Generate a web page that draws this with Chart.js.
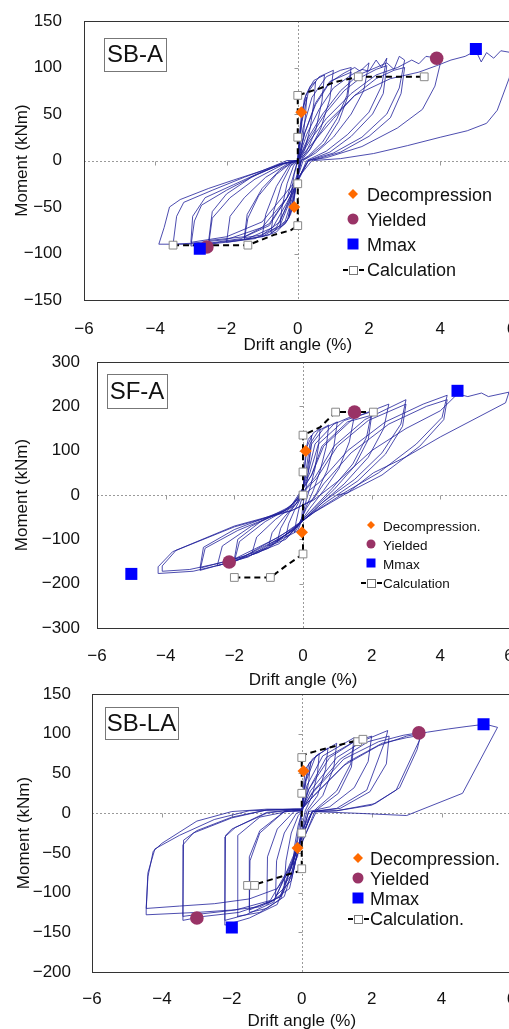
<!DOCTYPE html>
<html>
<head>
<meta charset="utf-8">
<script src="https://cdn.jsdelivr.net/npm/chart.js@4.4.0/dist/chart.umd.min.js"></script>
<style>
    html, body { margin: 0; padding: 0; background: #fff; overflow: hidden; width: 509px; height: 1029px; }
    canvas { position: absolute; left: 0; }
</style>
</head>
<body>
<canvas id="graficoSBA" width="520" height="360" style="top:0px"></canvas>
<canvas id="graficoSFA" width="520" height="355" style="top:340px"></canvas>
<canvas id="graficoSBLA" width="520" height="356" style="top:680px"></canvas>
<script>
// ---- datos (drift %, momento kNm) ----
var driftTicks = [-6, -4, -2, 0, 2, 4, 6];

// SB-A
var sbaLoop = [
    [0,0],[0.05,30],[0.12,55],[0.25,68],[0.22,50],[0.15,25],[0.08,5],
    [-0.05,-25],[-0.12,-50],[-0.25,-60],[-0.2,-40],[-0.1,-15],[0,0],
    [0.08,35],[0.18,65],[0.35,80],[0.5,85],[0.45,62],[0.35,35],[0.2,12],[0.05,0],
    [-0.08,-35],[-0.2,-58],[-0.35,-68],[-0.5,-72],[-0.45,-52],[-0.3,-25],[-0.12,-6],[0,0],
    [0.1,40],[0.22,70],[0.45,86],[0.75,92],[0.68,64],[0.5,32],[0.25,10],[0.08,0],
    [-0.1,-38],[-0.25,-62],[-0.5,-72],[-0.75,-78],[-0.68,-55],[-0.45,-25],[-0.2,-6],[0,0],
    [0.12,42],[0.3,74],[0.6,90],[1.0,97],[0.9,66],[0.65,35],[0.35,12],[0.1,0],
    [-0.12,-40],[-0.3,-65],[-0.6,-77],[-1.0,-82],[-0.9,-58],[-0.6,-28],[-0.25,-6],[0,0],
    [0.15,35],[0.4,68],[0.8,90],[1.2,97],[1.5,100],[1.38,70],[1.1,45],[0.7,20],[0.3,5],[0.1,0],
    [-0.15,-40],[-0.35,-65],[-0.8,-80],[-1.5,-85],[-1.4,-62],[-1.1,-38],[-0.6,-15],[-0.2,-3],[0,0],
    [0.2,30],[0.5,62],[0.9,85],[1.5,95],[1.4,68],[1.15,42],[0.75,18],[0.3,4],[0.1,0],
    [-0.2,-38],[-0.5,-66],[-1.0,-80],[-1.5,-83],[-1.42,-58],[-1.0,-30],[-0.5,-10],[-0.15,-2],[0,0],
    [0.2,30],[0.5,60],[0.9,84],[1.3,94],[1.6,100],[1.75,96],[2.0,105],[1.85,75],[1.5,50],[1.0,25],[0.5,8],[0.15,0],
    [-0.2,-42],[-0.5,-70],[-1.0,-82],[-1.5,-85],[-2.0,-88],[-1.9,-60],[-1.5,-40],[-0.9,-18],[-0.3,-4],[0,0],
    [0.25,28],[0.6,55],[1.0,78],[1.5,92],[1.8,98],[2.0,96],[2.2,108],[2.35,100],[2.5,110],[2.35,80],[2.0,52],[1.4,28],[0.8,10],[0.25,0],
    [-0.25,-45],[-0.6,-72],[-1.2,-84],[-1.8,-87],[-2.5,-90],[-2.4,-62],[-1.9,-40],[-1.2,-20],[-0.4,-4],[0,0],
    [0.3,22],[0.8,52],[1.3,75],[1.8,90],[2.2,98],[2.5,102],[2.4,72],[2.1,50],[1.5,26],[0.9,9],[0.3,0],
    [-0.3,-40],[-0.8,-68],[-1.5,-82],[-2.5,-86],[-2.4,-55],[-2.0,-36],[-1.3,-18],[-0.5,-4],[0,0],
    [0.3,25],[0.7,50],[1.2,75],[1.7,92],[2.2,100],[2.5,105],[2.7,98],[2.85,112],[3.0,108],[2.85,78],[2.5,50],[1.8,25],[1.0,8],[0.3,0],
    [-0.3,-45],[-0.7,-72],[-1.4,-84],[-2.2,-88],[-3.0,-92],[-2.9,-65],[-2.7,-48],[-2.0,-32],[-1.2,-16],[-0.4,-3],[0,0],
    [0.4,18],[1.0,45],[1.6,70],[2.2,88],[2.7,97],[3.0,100],[2.9,72],[2.6,46],[2.0,26],[1.2,9],[0.4,0],
    [-0.4,-38],[-1.0,-66],[-2.0,-82],[-3.0,-88],[-2.95,-60],[-2.6,-40],[-1.8,-26],[-1.0,-12],[-0.3,-2],[0,0],
    [-0.3,-40],[-1.0,-72],[-2.0,-85],[-3.0,-89],[-3.5,-90],[-3.4,-60],[-3.2,-45],[-2.4,-32],[-1.5,-18],[-0.5,-4],[0,0],
    [0.35,22],[0.8,45],[1.5,72],[2.2,92],[2.8,100],[3.2,108],[3.4,104],[3.6,112],[3.9,110],[4.0,104],[3.85,80],[3.5,55],[2.8,35],[1.8,15],[0.8,3],[0.3,0],
    [-0.3,-40],[-0.8,-70],[-1.6,-84],[-2.5,-89],[-3.2,-90],[-3.9,-90],[-3.75,-72],[-3.6,-50],[-3.3,-42],[-2.5,-30],[-1.8,-21],[-1.0,-11],[-0.3,0],[0,0],
    [0.3,10],[0.8,40],[1.6,70],[2.6,88],[3.4,95],[3.9,102],[4.3,108],[4.7,112],[5.0,118],[5.15,106],[5.3,116],[5.5,110],[5.7,118],[6.0,116],
    [5.94,89],[5.6,54],[5.3,40],[4.76,32],[4.0,25],[3.08,16],[2.13,7.5],[1.2,2],[0.45,0]
];
var sbaCalcLine = [[-3.5,-91],[-1.4,-91],[-0.67,-80],[-0.2,-75],[0,-70],[0,70],[0.08,71],[0.65,78],[1.0,84],[1.7,90],[3.55,90]];
var sbaCalcMarks = [[-3.5,-91],[-1.4,-91],[0,-70],[0,-25],[0,25],[0,70],[1.7,90],[3.55,90]];
var sbaDecomp = [[0.1,52],[-0.1,-50]];
var sbaYielded = [[3.9,110],[-2.55,-93]];
var sbaMmax = [[5.0,120],[-2.75,-95]];

// SF-A
var sfaLoop = [
    [0,0],[0.03,50],[0.08,100],[0.15,125],[0.25,135],[0.22,100],[0.15,50],[0.08,10],[0,-20],[-0.05,-60],[-0.15,-80],[-0.25,-85],[-0.2,-60],[-0.1,-25],[0,0],
    [0.05,60],[0.12,110],[0.3,140],[0.5,150],[0.45,110],[0.35,60],[0.22,20],[0.1,-10],[-0.05,-60],[-0.25,-85],[-0.5,-95],[-0.42,-65],[-0.25,-35],[-0.05,-5],
    [0.1,60],[0.2,115],[0.45,145],[0.75,158],[0.68,110],[0.5,55],[0.3,10],[0.1,-25],[-0.1,-65],[-0.4,-90],[-0.75,-105],[-0.65,-75],[-0.4,-40],[-0.1,-10],
    [0.12,55],[0.25,115],[0.6,150],[1.0,165],[0.9,110],[0.7,55],[0.4,5],[0.1,-30],[-0.15,-70],[-0.5,-100],[-1.0,-115],[-0.9,-85],[-0.55,-50],[-0.15,-15],
    [0.15,50],[0.35,115],[0.9,160],[1.5,180],[1.35,120],[1.05,60],[0.6,10],[0.2,-30],[-0.2,-75],[-0.7,-110],[-1.5,-135],[-1.35,-95],[-0.8,-55],[-0.2,-20],
    [0.2,50],[0.45,115],[1.2,168],[2.0,188],[1.85,130],[1.45,70],[0.85,15],[0.3,-30],[-0.25,-75],[-1.0,-120],[-2.0,-150],[-1.85,-105],[-1.1,-60],[-0.3,-25],
    [0.25,45],[0.55,110],[1.3,165],[2.0,180],[1.9,125],[1.5,65],[0.9,12],[0.35,-28],[-0.25,-75],[-1.0,-118],[-2.0,-145],[-1.9,-100],[-1.2,-58],[-0.35,-25],
    [0.25,45],[0.6,110],[1.5,175],[2.5,205],[2.35,150],[1.9,85],[1.2,25],[0.45,-25],[-0.3,-80],[-1.3,-130],[-2.5,-160],[-2.35,-115],[-1.5,-70],[-0.4,-30],
    [0.35,40],[0.9,110],[1.8,170],[3.0,215],[2.85,160],[2.3,95],[1.5,35],[0.6,-15],[-0.3,-80],[-1.6,-140],[-3.0,-170],[-2.85,-120],[-1.9,-80],[-0.5,-35],
    [0.4,38],[1.0,110],[1.9,168],[3.0,205],[2.9,155],[2.4,92],[1.6,32],[0.7,-15],[-0.35,-78],[-1.7,-138],[-3.0,-165],[-2.9,-118],[-2.0,-78],[-0.55,-35],
    [0.5,30],[1.3,100],[2.4,165],[3.5,205],[4.2,225],[4.05,175],[3.3,115],[2.2,50],[1.2,5],[0.3,-40],[-0.6,-95],[-2.0,-150],[-3.2,-172],[-4.2,-177],
    [-4.22,-162],[-3.8,-128],[-2.0,-70],[-0.3,-34],[0.3,-10],
    [0.6,25],[1.4,95],[2.5,160],[3.6,200],[4.2,215],[4.1,170],[3.4,110],[2.3,45],[1.25,3],[0.35,-38],[-0.7,-95],[-2.1,-148],[-3.3,-168],[-4.1,-172],
    [-4.1,-160],[-3.7,-125],[-2.0,-72],[-0.35,-36],[0.3,-12],
    [1.0,30],[2.0,100],[3.0,150],[4.0,190],[4.5,228],[4.8,222],[5.2,230],[5.4,222],[6.0,232],[5.9,208],[4.0,131],[3.0,86],[2.05,50],[1.3,5],[1.0,0]
];
var sfaCalcLine = [[-2.0,-186],[-0.95,-186],[-0.5,-160],[0,-133],[0,135],[0.5,153],[0.95,187],[2.05,187]];
var sfaCalcMarks = [[-2.0,-186],[-0.95,-186],[0,-133],[0,0],[0,52],[0,135],[0.95,187],[2.05,187]];
var sfaDecomp = [[0.08,99],[-0.03,-84]];
var sfaYielded = [[1.5,187],[-2.15,-151]];
var sfaMmax = [[4.5,235],[-5.0,-178]];

// SB-LA
var sblaLoop = [
    [0,0],[0.04,30],[0.1,55],[0.25,65],[0.2,40],[0.1,15],[0,0],[-0.05,-30],[-0.12,-55],[-0.25,-65],[-0.2,-40],[-0.1,-15],[0,0],
    [0.08,35],[0.2,62],[0.5,75],[0.45,50],[0.3,22],[0.1,3],[-0.08,-40],[-0.25,-75],[-0.5,-90],[-0.45,-60],[-0.3,-25],[-0.1,-3],[0,2],
    [0.1,40],[0.3,68],[0.75,82],[0.68,55],[0.45,22],[0.15,3],[-0.1,-45],[-0.3,-85],[-0.75,-105],[-0.72,-60],[-0.5,-25],[-0.15,0],[0,2],
    [0.12,40],[0.4,72],[1.0,88],[0.92,58],[0.6,22],[0.2,3],[-0.12,-50],[-0.35,-95],[-1.0,-115],[-0.98,-55],[-0.7,-20],[-0.2,3],[0,3],
    [0.15,35],[0.6,72],[1.5,95],[1.4,62],[1.0,28],[0.4,5],[-0.15,-55],[-0.5,-105],[-1.0,-120],[-1.5,-125],[-1.48,-60],[-1.2,-25],[-0.5,2],[0,3],
    [0.2,30],[0.7,70],[1.5,90],[1.42,58],[1.05,25],[0.45,5],[-0.2,-55],[-0.6,-105],[-1.5,-122],[-1.5,-55],[-1.2,-22],[-0.5,2],[0,3],
    [0.2,30],[0.8,70],[1.5,90],[2.0,97],[1.9,65],[1.5,32],[0.8,8],[0.2,2],[-0.2,-55],[-0.6,-108],[-1.2,-125],[-1.85,-130],[-1.83,-28],[-1.2,-5],[-0.3,3],[0,4],
    [0.25,28],[1.0,70],[1.8,92],[2.46,104],[2.4,93],[1.86,29],[1.0,6],[0.3,2],[-0.25,-60],[-0.7,-115],[-1.5,-132],[-2.2,-141],[-2.18,-28],[-2.0,-20],[-1.0,0],[-0.3,4],[0,4],
    [0.3,26],[1.1,68],[1.9,90],[2.5,97],[2.42,62],[1.95,27],[1.1,6],[0.3,2],[-0.3,-60],[-0.8,-112],[-1.6,-128],[-2.2,-135],[-2.2,-30],[-1.9,-18],[-1.0,1],[-0.3,4],[0,4],
    [0.3,25],[1.2,68],[2.2,90],[2.9,98],[3.45,102],[3.37,92],[2.7,29],[2.0,10],[1.0,3],[0.3,2],[-0.3,-65],[-0.8,-110],[-1.8,-125],[-2.8,-130],[-3.4,-135],
    [-3.38,-34],[-3.0,-22],[-2.0,-5],[-1.0,4],[-0.2,5],[0,5],
    [0.35,22],[1.3,64],[2.3,88],[3.0,95],[3.4,98],[3.3,80],[2.8,32],[2.1,12],[1.0,3],[0.3,2],[-0.35,-68],[-0.9,-110],[-1.9,-122],[-2.9,-127],[-3.4,-130],
    [-3.4,-40],[-3.1,-25],[-2.0,-6],[-1.0,4],[-0.2,5],[0,5],
    [0.3,20],[1.2,60],[2.2,85],[3.0,97],[3.6,102],[4.2,106],[4.7,109],[5.25,112],[5.6,108],[4.6,25],[3.0,-3],[1.5,0],[0.3,2],
    [-0.1,-30],[-0.3,-80],[-0.6,-105],[-1.2,-118],[-2.0,-122],[-3.0,-125],[-4.45,-128],[-4.45,-122],[-4.4,-80],[-4.25,-48],[-4.0,-38],[-3.0,-10],[-2.0,2],[-1.0,5],[0,5],
    [-0.1,-25],[-0.3,-70],[-0.7,-95],[-1.5,-108],[-2.5,-114],[-3.5,-117],[-4.45,-120],[-4.4,-75],[-4.2,-45],[-3.5,-28],[-2.5,-8],[-1.5,3],[0,5]
];
var sblaCalcLine = [[-1.55,-91],[-1.35,-90],[-0.6,-80],[0,-72],[0,72],[0.15,75],[1.0,85],[1.7,93]];
var sblaCalcMarks = [[-1.55,-91],[-1.35,-91],[0,-70],[0,-25],[0,25],[0,70],[1.6,90],[1.75,93]];
var sblaDecomp = [[0.05,53],[-0.12,-44]];
var sblaYielded = [[3.35,101],[-3.0,-132]];
var sblaMmax = [[5.2,112],[-2.0,-144]];

var FUENTE = "'Liberation Sans', Arial, sans-serif";
var COLOR_LAZO = '#20209a';

function aPuntos(lista) {
    return lista.map(function (p) { return { x: p[0], y: p[1] }; });
}

function formatoNum(v) {
    return v < 0 ? '\u2212' + Math.abs(v) : '' + v;
}

function dibujarMarca(ctx, tipo, x, y, r, color) {
    ctx.fillStyle = color;
    ctx.beginPath();
    if (tipo === 'rombo') {
        ctx.moveTo(x, y - r); ctx.lineTo(x + r, y); ctx.lineTo(x, y + r); ctx.lineTo(x - r, y); ctx.closePath();
    } else if (tipo === 'circulo') {
        ctx.arc(x, y, r, 0, Math.PI * 2);
    } else {
        ctx.rect(x - r, y - r, 2 * r, 2 * r);
    }
    ctx.fill();
}

// ejes en cero, marco, etiqueta del ensayo y leyenda
var decoracionPanel = {
    id: 'decoracionPanel',
    beforeDatasetsDraw: function (chart, args, opts) {
        var ctx = chart.ctx, a = chart.chartArea, sx = chart.scales.x, sy = chart.scales.y;
        var x0 = Math.round(sx.getPixelForValue(0)) + 0.5;
        var y0 = Math.round(sy.getPixelForValue(0)) + 0.5;
        ctx.save();
        ctx.strokeStyle = '#9a9a9a';
        ctx.lineWidth = 1;
        ctx.setLineDash([2, 2]);
        ctx.beginPath();
        ctx.moveTo(a.left, y0); ctx.lineTo(a.right, y0);
        ctx.moveTo(x0, a.top); ctx.lineTo(x0, a.bottom);
        ctx.stroke();
        ctx.setLineDash([]);
        ctx.beginPath();
        sx.ticks.forEach(function (t) {
            if (t.value !== 0 && t.value !== sx.min && t.value !== sx.max) {
                var px = Math.round(sx.getPixelForValue(t.value)) + 0.5;
                ctx.moveTo(px, y0); ctx.lineTo(px, y0 + 4);
            }
        });
        sy.ticks.forEach(function (t) {
            if (t.value !== 0 && t.value !== sy.min && t.value !== sy.max) {
                var py = Math.round(sy.getPixelForValue(t.value)) + 0.5;
                ctx.moveTo(x0 - 4, py); ctx.lineTo(x0, py);
            }
        });
        ctx.stroke();
        ctx.restore();
    },
    afterDraw: function (chart, args, opts) {
        var ctx = chart.ctx, a = chart.chartArea;
        ctx.save();
        // marco
        ctx.strokeStyle = '#333';
        ctx.lineWidth = 1;
        ctx.strokeRect(Math.round(a.left) + 0.5, Math.round(a.top) + 0.5, Math.round(a.right - a.left), Math.round(a.bottom - a.top));

        // caja con nombre del ensayo
        var c = opts.caja;
        ctx.fillStyle = '#fff';
        ctx.fillRect(c.x, c.y, c.w, c.h);
        ctx.strokeStyle = '#777';
        ctx.strokeRect(c.x + 0.5, c.y + 0.5, c.w, c.h);
        ctx.fillStyle = '#111';
        ctx.font = c.size + 'px ' + FUENTE;
        ctx.textAlign = 'center';
        ctx.textBaseline = 'middle';
        ctx.fillText(c.texto, c.x + c.w / 2, c.y + c.h / 2 + 1);

        // leyenda
        var lg = opts.leyenda;
        ctx.font = lg.size + 'px ' + FUENTE;
        ctx.textAlign = 'left';
        ctx.fillStyle = '#111';
        var tipos = ['rombo', 'circulo', 'cuadro'];
        var colores = ['#ff6a00', '#993366', '#0000ff'];
        for (var i = 0; i < 3; i++) {
            dibujarMarca(ctx, tipos[i], lg.xMarca, lg.filas[i] - 2, lg.r[i], colores[i]);
            ctx.fillStyle = '#111';
            ctx.fillText(lg.textos[i], lg.xTexto, lg.filas[i]);
        }
        var yc = lg.filas[3];
        ctx.strokeStyle = '#000';
        ctx.lineWidth = 2;
        ctx.setLineDash([5, 3]);
        ctx.beginPath();
        ctx.moveTo(lg.xMarca - 10, yc - 1); ctx.lineTo(lg.xMarca + 12, yc - 1);
        ctx.stroke();
        ctx.setLineDash([]);
        ctx.fillStyle = '#fff';
        ctx.fillRect(lg.xMarca - 4, yc - 5, 8, 8);
        ctx.lineWidth = 1;
        ctx.strokeStyle = '#777';
        ctx.strokeRect(lg.xMarca - 3.5, yc - 4.5, 8, 8);
        ctx.fillStyle = '#111';
        ctx.fillText(lg.textos[3], lg.xTexto, yc);
        ctx.restore();
    }
};
Chart.register(decoracionPanel);

function pintarPanel(idCanvas, p) {
    return new Chart(document.getElementById(idCanvas).getContext('2d'), {
        type: 'scatter',
        data: {
            datasets: [
                { data: aPuntos(p.mmax), pointStyle: 'rect', pointRadius: 8.5, backgroundColor: '#0000ff', borderWidth: 0 },
                { data: aPuntos(p.yielded), pointStyle: 'circle', pointRadius: 6.8, backgroundColor: '#993366', borderWidth: 0 },
                { data: aPuntos(p.decomp), pointStyle: 'rectRot', pointRadius: 6, backgroundColor: '#ff6a00', borderWidth: 0 },
                { data: aPuntos(p.calcMarks), pointStyle: 'rect', pointRadius: 5.5, backgroundColor: '#fff', borderColor: '#888', borderWidth: 1 },
                { data: aPuntos(p.calcLine), showLine: true, pointRadius: 0, borderColor: '#000', borderWidth: 2, borderDash: [6, 4] },
                { data: aPuntos(p.loop), showLine: true, pointRadius: 0, borderColor: COLOR_LAZO, borderWidth: 0.8, tension: 0 }
            ]
        },
        options: {
            responsive: false,
            animation: false,
            events: [],
            layout: { padding: { left: 0, top: p.padTop, right: p.padRight, bottom: 4 } },
            plugins: {
                legend: { display: false },
                tooltip: { enabled: false },
                decoracionPanel: { caja: p.caja, leyenda: p.leyenda }
            },
            scales: {
                x: {
                    type: 'linear',
                    min: -6, max: 6,
                    afterBuildTicks: function (axis) { axis.ticks = driftTicks.map(function (v) { return { value: v }; }); },
                    afterFit: function (axis) { axis.height = p.ejeXAlto; },
                    // el hueco entre eje y etiquetas va en tickLength (el padding de ticks encoge el area)
                    grid: { display: false, drawTicks: true, tickLength: p.sepTickX },
                    border: { display: false },
                    ticks: { padding: 0, color: '#111', font: { family: FUENTE, size: 17 }, callback: formatoNum, maxRotation: 0 },
                    title: { display: true, text: 'Drift angle (%)', color: '#111', font: { family: FUENTE, size: 17 }, padding: 0 }
                },
                y: {
                    type: 'linear',
                    min: p.yMin, max: p.yMax,
                    ticks: { stepSize: p.yStep, padding: 0, color: '#111', font: { family: FUENTE, size: 17 }, callback: formatoNum },
                    afterFit: function (axis) { axis.width = p.plotLeft; },
                    grid: { display: false, drawTicks: true, tickLength: p.sepTickY },
                    border: { display: false },
                    title: { display: true, text: 'Moment (kNm)', color: '#111', font: { family: FUENTE, size: 17 }, padding: { top: p.padTituloY, bottom: 0 } }
                }
            }
        }
    });
}

pintarPanel('graficoSBA', {
    loop: sbaLoop, calcLine: sbaCalcLine, calcMarks: sbaCalcMarks, decomp: sbaDecomp, yielded: sbaYielded, mmax: sbaMmax,
    yMin: -150, yMax: 150, yStep: 50,
    plotLeft: 84, padTop: 21, padRight: 8, ejeXAlto: 56, sepTickX: 19, sepTickY: 22, padTituloY: 12,
    caja: { x: 104, y: 38, w: 62, h: 33, texto: 'SB-A', size: 24 },
    leyenda: { xMarca: 353, xTexto: 367, filas: [196, 221, 246, 271], r: [5, 5.5, 5.5], size: 18,
        textos: ['Decompression', 'Yielded', 'Mmax', 'Calculation'] }
});

pintarPanel('graficoSFA', {
    loop: sfaLoop, calcLine: sfaCalcLine, calcMarks: sfaCalcMarks, decomp: sfaDecomp, yielded: sfaYielded, mmax: sfaMmax,
    yMin: -300, yMax: 300, yStep: 100,
    plotLeft: 97, padTop: 22, padRight: 11, ejeXAlto: 63, sepTickX: 18, sepTickY: 17, padTituloY: 12,
    caja: { x: 107, y: 34, w: 60, h: 34, texto: 'SF-A', size: 24 },
    leyenda: { xMarca: 371, xTexto: 383, filas: [187, 206, 225, 244], r: [4, 4.5, 4.5], size: 13.5,
        textos: ['Decompression.', 'Yielded', 'Mmax', 'Calculation'] }
});

pintarPanel('graficoSBLA', {
    loop: sblaLoop, calcLine: sblaCalcLine, calcMarks: sblaCalcMarks, decomp: sblaDecomp, yielded: sblaYielded, mmax: sblaMmax,
    yMin: -200, yMax: 150, yStep: 50,
    plotLeft: 92, padTop: 14, padRight: 8, ejeXAlto: 60, sepTickX: 17, sepTickY: 21, padTituloY: 14,
    caja: { x: 105, y: 27, w: 73, h: 32, texto: 'SB-LA', size: 24 },
    leyenda: { xMarca: 358, xTexto: 370, filas: [180, 200, 220, 240], r: [5, 5.5, 5.5], size: 18,
        textos: ['Decompression.', 'Yielded', 'Mmax', 'Calculation.'] }
});
</script>
</body>
</html>
